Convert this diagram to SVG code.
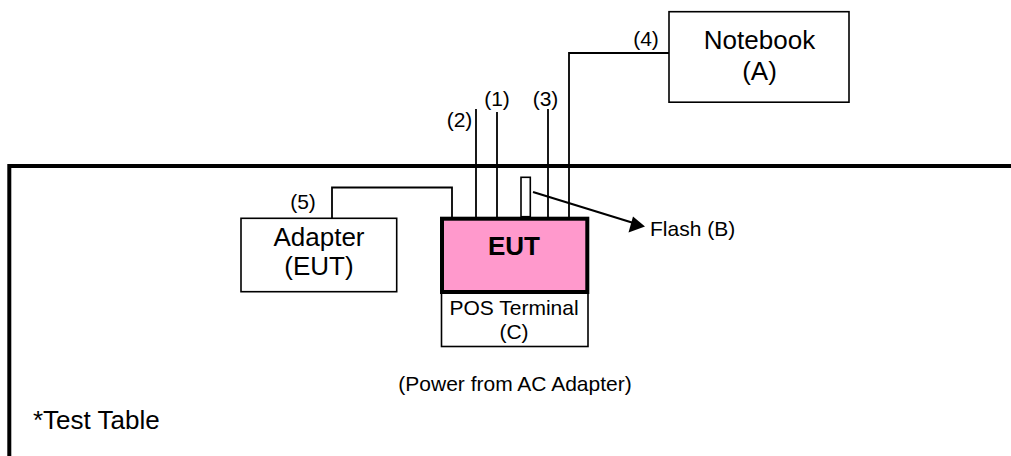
<svg xmlns="http://www.w3.org/2000/svg" width="1011" height="456" viewBox="0 0 1011 456">
<defs>
<style>
text{font-family:"Liberation Sans",Arial,sans-serif;fill:#000}
.big{font-size:26px}
.sm{font-size:21px}
.mid{text-anchor:middle}
.box{fill:#fff;stroke:#000;stroke-width:1.6}
.wire{fill:none;stroke:#000;stroke-width:1.8}
</style>
</defs>
<rect x="0" y="0" width="1011" height="456" fill="#fff"/>
<g id="table">
<path d="M9.3,458 V166 H1013" fill="none" stroke="#000" stroke-width="4"/>
<text class="big" x="33" y="429">*Test Table</text>
</g>
<g id="connectors">
<path class="wire" d="M476,217 V109"/>
<path class="wire" d="M497,217 V112"/>
<path class="wire" d="M548,217 V109"/>
<path class="wire" d="M569,217 V53 H669"/>
<path class="wire" d="M332,218 V187.5 H452 V217"/>
<line x1="533" y1="192" x2="640" y2="225" stroke="#000" stroke-width="2.2"/>
<path d="M645,226.5 L628.5,232.5 L633,216.5 z" fill="#000"/>
<text class="sm mid" x="459.5" y="127">(2)</text>
<text class="sm mid" x="497" y="106">(1)</text>
<text class="sm mid" x="545.5" y="106">(3)</text>
<text class="sm mid" x="646" y="46">(4)</text>
<text class="sm mid" x="303" y="209">(5)</text>
</g>
<g id="notebook">
<rect class="box" x="669" y="11.7" width="180" height="90.5"/>
<text class="big mid" x="759.5" y="49">Notebook</text>
<text class="big mid" x="759.5" y="80">(A)</text>
</g>
<g id="adapter">
<rect class="box" x="241" y="218.3" width="155.7" height="73.4"/>
<text class="big mid" x="319" y="246">Adapter</text>
<text class="big mid" x="319" y="275">(EUT)</text>
</g>
<g id="pos">
<rect class="box" x="441.5" y="292" width="146.5" height="54.5"/>
<text class="sm mid" x="514" y="315">POS Terminal</text>
<text class="sm mid" x="514" y="339">(C)</text>
</g>
<g id="eut">
<rect x="442" y="218.7" width="145.3" height="73.3" fill="#FF99CC" stroke="#000" stroke-width="4"/>
<text class="mid" x="514" y="255" style="font-size:26px;font-weight:bold">EUT</text>
</g>
<g id="flash">
<rect x="521" y="177.3" width="9.3" height="39.4" fill="#fff" stroke="#000" stroke-width="1.6"/>
<text class="sm" x="650" y="236">Flash (B)</text>
</g>
<g id="power">
<text class="sm mid" x="515" y="391">(Power from AC Adapter)</text>
</g>
</svg>
